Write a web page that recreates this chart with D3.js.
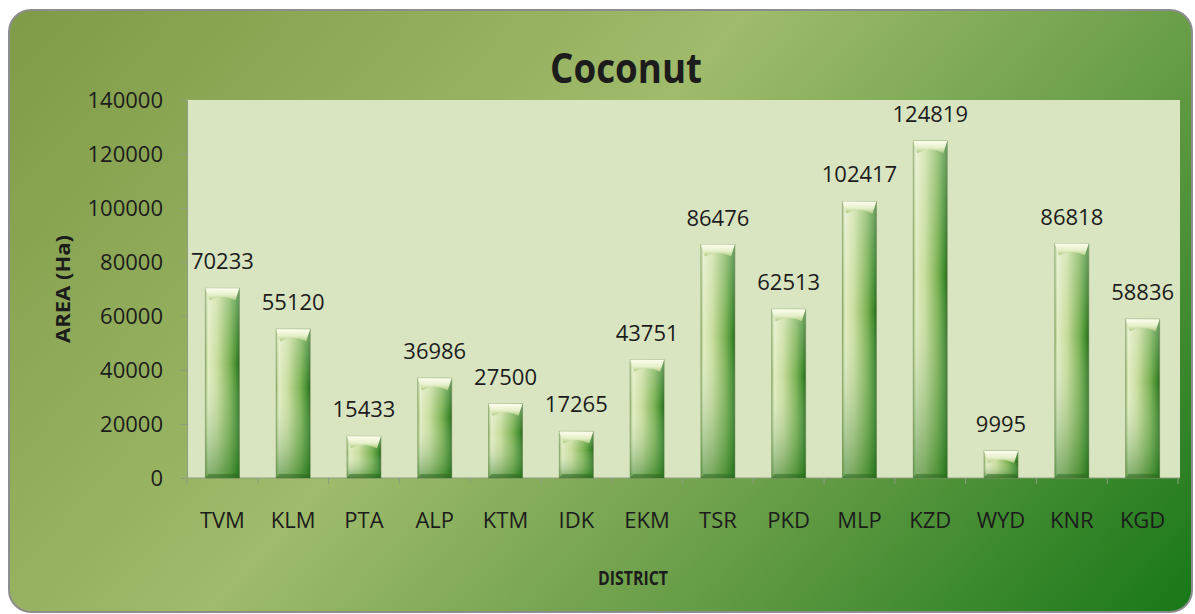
<!DOCTYPE html>
<html>
<head>
<meta charset="utf-8">
<script src="https://cdnjs.cloudflare.com/ajax/libs/d3/7.8.5/d3.min.js"></script>
<style>
body { margin: 0; background: #fff; }
text { font-family: "Open Sans", sans-serif; fill: #1c1c1c; }
</style>
</head>
<body>
<script>
// chart data
var districts = ["TVM","KLM","PTA","ALP","KTM","IDK","EKM","TSR","PKD","MLP","KZD","WYD","KNR","KGD"];
var area = [70233,55120,15433,36986,27500,17265,43751,86476,62513,102417,124819,9995,86818,58836];
var yTicks = [0,20000,40000,60000,80000,100000,120000,140000];

var W = 1195, H = 614;
var margin = {top: 100, right: 15, bottom: 136, left: 187},
    width = W - margin.left - margin.right,
    height = H - margin.top - margin.bottom;

var svg = d3.select("body").append("svg")
   .attr("width", W)
   .attr("height", H);

var defs = svg.append("defs");
function grad(id, x1, y1, x2, y2, stops, user) {
  var g = defs.append("linearGradient").attr("id", id)
    .attr("x1", x1).attr("y1", y1).attr("x2", x2).attr("y2", y2);
  if (user) g.attr("gradientUnits", "userSpaceOnUse");
  stops.forEach(function(s) {
    g.append("stop").attr("offset", s[0]).attr("stop-color", s[1])
      .attr("stop-opacity", s[2] == null ? 1 : s[2]);
  });
}
grad("bg", 0, 0, 1000, 900, [[0,"#7e9a46"],[0.42,"#9fbb6b"],[0.66,"#6b9f49"],[0.96,"#187818"],[1,"#157516"]], true);
grad("barH", 0, 0, 1, 0, [[0,"#9dbb72"],[0.08,"#e0ecc2"],[0.35,"#c8dc9c"],[0.72,"#7ab152"],[0.92,"#3d8a2b"],[1,"#2b661f"]]);
grad("barV", 0, 0, 0, 1, [[0,"#ffffff",0.3],[0.4,"#ffffff",0],[1,"#1f6e17",0.5]]);
grad("cap", 0, 0, 0, 1, [[0,"#fdfeee"],[0.55,"#e6f0ca"],[1,"#afcb82"]]);

// outer frame
svg.append("rect")
  .attr("x", 9).attr("y", 10)
  .attr("width", W - 12).attr("height", H - 12)
  .attr("rx", 22)
  .attr("fill", "url(#bg)")
  .attr("stroke", "#8d8d8d")
  .attr("stroke-width", 2);

var g = svg.append("g")
  .attr("transform", "translate(" + margin.left + "," + margin.top + ")");

// plot area
g.append("rect")
  .attr("width", width - 0).attr("height", height)
  .attr("fill", "#d9e5c1");

var x = d3.scaleBand().domain(districts).range([0, width - 2]);
var y = d3.scaleLinear().domain([0, 140000]).range([height, 0]);

// y axis
var yAxis = d3.axisLeft(y).tickValues(yTicks).tickSize(6).tickSizeOuter(0).tickPadding(18)
  .tickFormat(d3.format("d"));
var ya = g.append("g").attr("class", "y-axis").call(yAxis);
ya.selectAll("path, line").attr("stroke", "#8f9c82");
ya.selectAll("text").style("font-size", "22px").attr("fill", "#1c1c1c");

// x axis (labels only), boundary ticks drawn below
var xAxis = d3.axisBottom(x).tickSize(0).tickSizeOuter(0).tickPadding(34);
var xa = g.append("g").attr("class", "x-axis")
  .attr("transform", "translate(0," + height + ")")
  .call(xAxis);
xa.select("path").remove();
xa.selectAll("text").style("font-size", "22px").attr("fill", "#1c1c1c");

g.append("line")
  .attr("x1", 0).attr("x2", width).attr("y1", height).attr("y2", height)
  .attr("stroke", "#8f9c82");
g.selectAll(".xtick")
  .data(districts.concat([null]))
  .enter().append("line")
  .attr("class", "xtick")
  .attr("x1", function(d, i) { return i < districts.length ? x(d) : x.range()[1]; })
  .attr("x2", function(d, i) { return i < districts.length ? x(d) : x.range()[1]; })
  .attr("y1", height).attr("y2", height + 6)
  .attr("stroke", "#8f9c82");

// bars
var barW = x.bandwidth() * 0.48;
var bx = function(d, i) { return x(districts[i]) + (x.bandwidth() - barW) / 2; };

var bars = g.selectAll(".bar")
  .data(area)
  .enter().append("g")
  .attr("class", "bar");

bars.append("rect")
  .attr("x", bx).attr("y", function(d) { return y(d); })
  .attr("width", barW).attr("height", function(d) { return height - y(d); })
  .attr("fill", "url(#barH)")
  .attr("stroke", "#5b7d3e").attr("stroke-opacity", 0.5);
bars.append("rect")
  .attr("x", bx).attr("y", function(d) { return y(d); })
  .attr("width", barW).attr("height", function(d) { return height - y(d); })
  .attr("fill", "url(#barV)");
// bevelled top
bars.append("path")
  .attr("d", function(d, i) {
    var x0 = bx(d, i), t = y(d);
    return "M" + x0 + "," + t + "L" + (x0 + barW) + "," + t +
      "L" + (x0 + barW - 4) + "," + (t + 12) + "Q" + (x0 + barW / 2) + "," + (t + 5) + " " + (x0 + 4) + "," + (t + 12) + "Z";
  })
  .attr("fill", "url(#cap)");
// bevelled bottom
bars.append("path")
  .attr("d", function(d, i) {
    var x0 = bx(d, i), b = y(0);
    return "M" + x0 + "," + b + "L" + (x0 + barW) + "," + b +
      "L" + (x0 + barW - 3) + "," + (b - 4) + "L" + (x0 + 3) + "," + (b - 4) + "Z";
  })
  .attr("fill", "#2d6a20").attr("fill-opacity", 0.55);

// value labels
g.selectAll(".val")
  .data(area)
  .enter().append("text")
  .attr("class", "val")
  .attr("x", function(d, i) { return x(districts[i]) + x.bandwidth() / 2; })
  .attr("y", function(d) { return y(d) - 19; })
  .attr("text-anchor", "middle")
  .style("font-size", "22px")
  .text(function(d) { return d; });

// titles
svg.append("text")
  .attr("x", 626).attr("y", 83)
  .attr("text-anchor", "middle")
  .style("font-size", "42px").style("font-weight", "bold")
  .attr("textLength", 152).attr("lengthAdjust", "spacingAndGlyphs")
  .attr("fill", "#050505")
  .text("Coconut");

svg.append("text")
  .attr("x", 633).attr("y", 585)
  .attr("text-anchor", "middle")
  .style("font-size", "20px").style("font-weight", "bold")
  .attr("textLength", 70).attr("lengthAdjust", "spacingAndGlyphs")
  .text("DISTRICT");

svg.append("text")
  .attr("transform", "translate(70," + (margin.top + height / 2) + ") rotate(-90)")
  .attr("text-anchor", "middle")
  .style("font-size", "20px").style("font-weight", "bold")
  .attr("textLength", 108).attr("lengthAdjust", "spacingAndGlyphs")
  .text("AREA (Ha)");
</script>
</body>
</html>
